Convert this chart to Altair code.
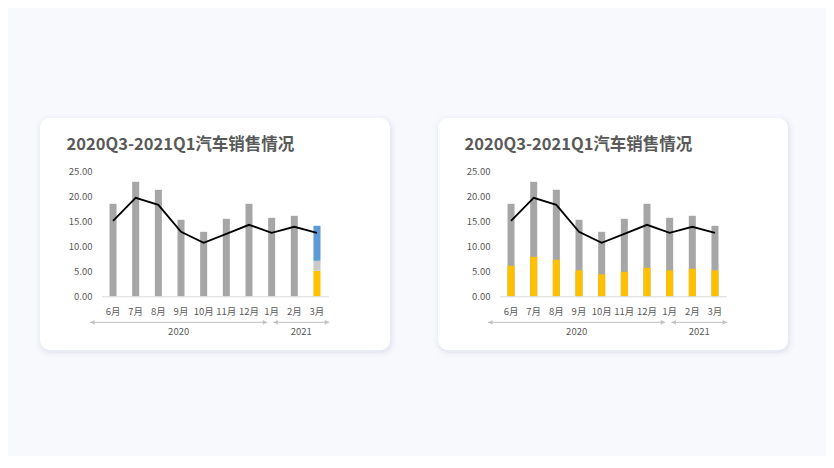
import altair as alt
import pandas as pd

# ---- data ----
months = ["6月", "7月", "8月", "9月", "10月", "11月", "12月", "1月", "2月", "3月"]
total = [18.5, 22.9, 21.3, 15.3, 12.9, 15.5, 18.5, 15.7, 16.1, 14.1]
trend = [15.1, 19.7, 18.3, 12.9, 10.7, 12.5, 14.3, 12.7, 13.9, 12.7]
part = [6.1, 7.9, 7.3, 5.2, 4.4, 4.9, 5.7, 5.2, 5.5, 5.2]
march_segments = ["yellow", "grey", "blue"]
march_values = [5.1, 2.0, 7.0]
years = ["2020", "2021"]
title_text = "2020Q3-2021Q1汽车销售情况"
y_ticks = [0, 5, 10, 15, 20, 25]

df = pd.DataFrame({"month": months, "total": total, "trend": trend, "part": part})

seg_start, acc = [], 0.0
for v in march_values:
    seg_start.append(acc)
    acc += v
march_df = pd.DataFrame({
    "month": ["3月"] * 3,
    "seg": march_segments,
    "start": seg_start,
    "end": [s + v for s, v in zip(seg_start, march_values)],
})

# ---- layout constants (view = card + 10px margin) ----
VW, VH = 370, 252
CX0, CY0, CX1, CY1 = 10, 10, 360, 242
XR = [71.7, 298.3]
YR = [188.3, 63.3]

GREY = "#a6a6a6"
YELLOW = "#ffc000"
BLUE = "#5b9bd5"
LIGHTGREY = "#c9c9c9"
TXT = "#595959"
FONT = "Noto Sans CJK SC"
FS = 9.5

one = pd.DataFrame({"k": [0]})

x_enc = alt.X(
    "month:N", sort=months, title=None,
    scale=alt.Scale(range=XR, paddingInner=0.69, paddingOuter=0.345),
    axis=alt.Axis(
        orient="bottom", offset=-(VH - YR[0]), labelAngle=0, ticks=False,
        domainColor="#d9d9d9", domainWidth=1, labelColor=TXT, labelFontSize=FS,
        labelFont=FONT, labelPadding=15, labelBaseline="middle", grid=False,
        zindex=2,
    ),
)


def y_enc(field):
    return alt.Y(
        field, title=None,
        scale=alt.Scale(domain=[0, 25], range=YR, nice=False),
        axis=alt.Axis(
            orient="left", offset=-65, values=y_ticks, format=".2f", ticks=False,
            domain=False, grid=False, labelColor=TXT, labelFontSize=FS,
            labelFont=FONT, labelPadding=3, zindex=2,
        ),
    )


def card_layers():
    layers = []
    for k, op in [(6, 0.015), (4, 0.025), (2, 0.035), (1, 0.04)]:
        layers.append(
            alt.Chart(one).mark_rect(cornerRadius=10 + k, color="#7a88a8", opacity=op).encode(
                x=alt.value(CX0 - k + 1), x2=alt.value(CX1 + k + 1),
                y=alt.value(CY0 - k + 2), y2=alt.value(CY1 + k + 2),
            )
        )
    layers.append(
        alt.Chart(one).mark_rect(cornerRadius=10, color="white").encode(
            x=alt.value(CX0), x2=alt.value(CX1), y=alt.value(CY0), y2=alt.value(CY1)
        )
    )
    return layers


def title_layer():
    return alt.Chart(pd.DataFrame({"t": [title_text]})).mark_text(
        align="left", baseline="alphabetic", font=FONT, fontSize=16.5,
        fontWeight="bold", color=TXT,
    ).encode(x=alt.value(36.5), y=alt.value(41.5), text="t:N")


def year_layers():
    spans = [(60, 237.3), (243.3, 299.3)]
    layers = []
    for (a, b), yr in zip(spans, years):
        d = pd.DataFrame({"yr": [yr]})
        layers.append(alt.Chart(d).mark_rule(color="#c0c0c0", strokeWidth=1).encode(
            x=alt.value(a), x2=alt.value(b), y=alt.value(214.3)))
        layers.append(alt.Chart(d).mark_point(shape="triangle-left", filled=True, size=22,
                                              color="#c0c0c0", opacity=1).encode(
            x=alt.value(a + 2.5), y=alt.value(214.3)))
        layers.append(alt.Chart(d).mark_point(shape="triangle-right", filled=True, size=22,
                                              color="#c0c0c0", opacity=1).encode(
            x=alt.value(b - 2.5), y=alt.value(214.3)))
        layers.append(alt.Chart(d).mark_text(font=FONT, fontSize=FS, color=TXT,
                                             baseline="middle").encode(
            x=alt.value((a + b) / 2), y=alt.value(223.7), text="yr:N"))
    return layers


def line_layer():
    return alt.Chart(df).mark_line(color="black", strokeWidth=1.8).encode(
        x=x_enc, y=y_enc("trend:Q"))


# left panel
left_grey = alt.Chart(df).transform_filter(alt.datum.month != "3月").mark_bar(color=GREY).encode(
    x=x_enc, y=y_enc("total:Q"))
left_march = alt.Chart(march_df).mark_bar().encode(
    x=x_enc, y=y_enc("start:Q"), y2="end:Q",
    color=alt.Color("seg:N", scale=alt.Scale(domain=march_segments,
                                             range=[YELLOW, LIGHTGREY, BLUE]), legend=None),
)
left = alt.layer(*card_layers(), left_grey, left_march, line_layer(),
                 title_layer(), *year_layers()).properties(width=VW, height=VH)

# right panel
right_grey = alt.Chart(df).mark_bar(color=GREY).encode(x=x_enc, y=y_enc("total:Q"))
right_yellow = alt.Chart(df).mark_bar(color=YELLOW).encode(x=x_enc, y=y_enc("part:Q"))
right = alt.layer(*card_layers(), right_grey, right_yellow, line_layer(),
                  title_layer(), *year_layers()).properties(width=VW, height=VH)

chart = alt.hconcat(left, right, spacing=28, bounds="flush").properties(
    background="#f8f9fd",
    padding={"left": 22, "top": 100, "right": 28, "bottom": 96},
).configure_view(stroke=None, fill=None)

chart.save("out.html", embed_options={"renderer": "svg", "actions": False})
